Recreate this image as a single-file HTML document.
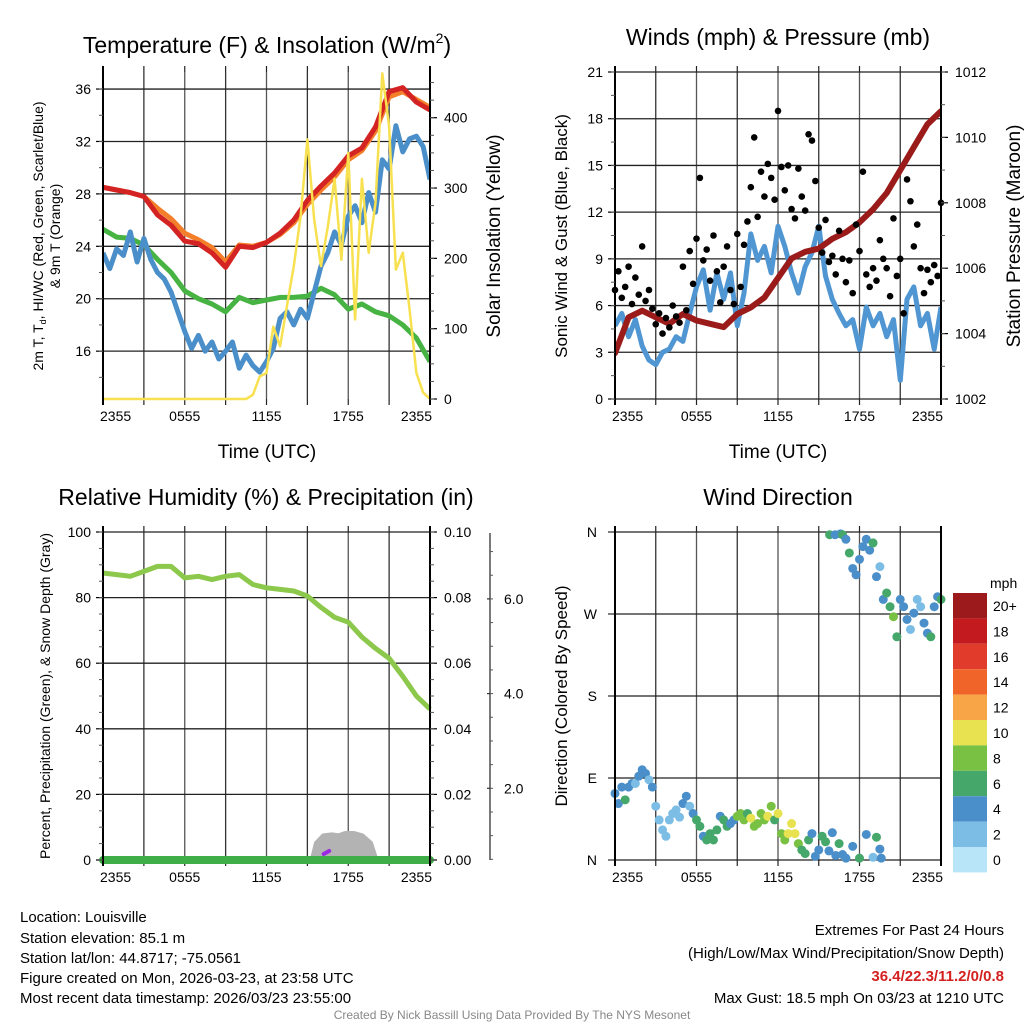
<!DOCTYPE html>
<html><head><meta charset="utf-8"><style>
html,body{margin:0;padding:0;background:#fff;}
svg{display:block;font-family:"Liberation Sans",Arial,sans-serif;}
</style></head><body>
<svg id="svg" xmlns="http://www.w3.org/2000/svg" width="1024" height="1024" viewBox="0 0 1024 1024">
<rect width="1024" height="1024" fill="#fff"/>
<g id="txt" fill="#000">
<text x="267" y="53" font-size="23" text-anchor="middle">Temperature (F) &amp; Insolation (W/m<tspan font-size="14" dy="-10">2</tspan><tspan dy="10">)</tspan></text>
<text x="778" y="45" font-size="23" text-anchor="middle">Winds (mph) &amp; Pressure (mb)</text>
<text x="266" y="505" font-size="23" text-anchor="middle">Relative Humidity (%) &amp; Precipitation (in)</text>
<text x="778" y="505" font-size="23" text-anchor="middle">Wind Direction</text>
<text x="267" y="458" font-size="19" text-anchor="middle">Time (UTC)</text>
<text x="778" y="458" font-size="19" text-anchor="middle">Time (UTC)</text>
<text transform="translate(43,236) rotate(-90)" font-size="14" text-anchor="middle">2m T, T<tspan font-size="9" dy="3">d</tspan><tspan dy="-3">, HI/WC (Red, Green, Scarlet/Blue)</tspan></text>
<text transform="translate(60,236) rotate(-90)" font-size="14" text-anchor="middle">&amp; 9m T (Orange)</text>
<text transform="translate(500,236) rotate(-90)" font-size="19" text-anchor="middle">Solar Insolation (Yellow)</text>
<text transform="translate(567,236) rotate(-90)" font-size="17" text-anchor="middle">Sonic Wind &amp; Gust (Blue, Black)</text>
<text transform="translate(1020,236) rotate(-90)" font-size="19" text-anchor="middle">Station Pressure (Maroon)</text>
<text transform="translate(50,696) rotate(-90)" font-size="14" text-anchor="middle">Percent, Precipitation (Green), &amp; Snow Depth (Gray)</text>
<text transform="translate(567,696) rotate(-90)" font-size="17" text-anchor="middle">Direction (Colored By Speed)</text>
<text x="990" y="588" font-size="14" text-anchor="start">mph</text>
<g font-size="15">
<text x="20" y="922">Location: Louisville</text>
<text x="20" y="943">Station elevation: 85.1 m</text>
<text x="20" y="963">Station lat/lon: 44.8717; -75.0561</text>
<text x="20" y="983">Figure created on Mon, 2026-03-23, at 23:58 UTC</text>
<text x="20" y="1003">Most recent data timestamp: 2026/03/23 23:55:00</text>
</g>
<g font-size="15" text-anchor="end">
<text x="1004" y="935">Extremes For Past 24 Hours</text>
<text x="1004" y="958">(High/Low/Max Wind/Precipitation/Snow Depth)</text>
<text x="1004" y="981" fill="#d42020" font-weight="bold">36.4/22.3/11.2/0/0.8</text>
<text x="1004" y="1003">Max Gust: 18.5 mph On 03/23 at 1210 UTC</text>
</g>
<text x="512" y="1019" font-size="12" fill="#888" text-anchor="middle">Created By Nick Bassill Using Data Provided By The NYS Mesonet</text>
</g>
</svg>
<script>
// ---------- data ----------
const timeLabels = ["2355","0555","1155","1755","2355"];
// Panel 1 (hourly, 0..24 h)
const tempRed = [28.5,28.3,28.1,27.8,26.4,25.6,24.4,24.2,23.5,22.4,24.0,23.9,24.3,25.0,26.0,27.5,28.6,29.6,30.9,31.5,33.1,35.8,36.1,35.0,34.4];
const tempOrange = [28.5,28.3,28.1,27.8,26.9,26.1,25.0,24.5,23.9,22.8,24.1,24.0,24.3,24.9,25.8,27.2,28.3,29.3,30.6,31.3,32.8,35.4,35.8,35.2,34.6];
const dewGreen = [25.3,24.7,24.6,24.1,23.0,22.0,20.6,20.0,19.6,19.0,20.1,19.7,19.9,20.1,20.1,20.2,20.8,20.3,19.2,19.6,19.0,18.7,18.0,17.0,15.2];
// half-hourly
const hiwcBlue = [23.5,22.3,23.8,23.3,25.1,22.8,24.6,23.0,22.0,21.5,20.5,19.0,17.5,16.2,17.2,16.0,16.7,15.4,16.0,16.7,14.7,15.7,14.9,14.4,15.2,16.2,18.5,19.0,18.0,19.2,18.5,20.5,22.5,23.5,25.1,24.1,26.3,27.1,25.8,28.1,26.6,30.6,29.9,33.2,31.2,32.2,32.4,31.6,29.1];
const solar = [0,0,0,0,0,0,0,0,0,0,0,0,0,0,0,0,0,0,0,0,0,0,6,32,37,103,75,132,189,260,369,255,189,245,313,198,350,113,313,208,279,463,388,184,208,127,37,9,0];
const tempTicks = [16,20,24,28,32,36];
const solarTicks = [0,100,200,300,400];
// Panel 2
const pressure = [1003.4,1004.5,1004.7,1004.5,1004.3,1004.6,1004.4,1004.3,1004.2,1004.6,1004.8,1005.1,1005.7,1006.3,1006.5,1006.6,1006.9,1007.1,1007.4,1007.8,1008.3,1009.0,1009.7,1010.4,1010.8];
const windBlue = [4.7,5.5,4.0,5.1,3.4,2.5,2.2,3.0,3.2,4.0,3.7,5.5,7.2,8.3,5.7,8.1,6.4,8.1,4.7,6.8,10.6,8.9,9.8,8.1,11.1,9.8,8.1,6.8,8.5,9.4,11.1,7.9,6.4,5.5,4.7,5.1,3.2,5.9,4.7,5.5,4.0,5.1,1.2,6.4,7.2,4.7,5.5,3.2,5.9];
const gusts = [7.0,8.2,6.5,7.2,8.5,6.1,7.8,6.7,9.8,6.3,7.0,5.8,4.8,5.5,4.2,5.2,4.6,6.0,5.3,4.9,8.5,5.7,9.5,7.4,10.3,14.2,8.9,9.6,7.6,10.5,8.2,6.2,8.5,9.8,7.0,6.1,10.6,7.2,9.9,11.4,13.6,16.8,11.7,14.6,13.0,15.1,14.2,12.8,18.5,14.9,13.4,15.0,12.2,11.6,14.8,13.0,12.1,17.0,16.6,14.0,11.0,9.4,11.5,8.8,9.2,8.0,10.8,9.0,7.5,8.9,6.8,11.2,9.5,14.6,8.0,7.2,8.4,7.6,10.2,9.0,8.4,6.6,11.6,7.9,9.0,5.5,14.1,12.7,9.8,11.2,8.4,6.8,8.3,7.5,8.6,7.9,12.6];
const windTicks = [0,3,6,9,12,15,18,21];
const pressTicks = [1002,1004,1006,1008,1010,1012];
// Panel 3
const rh = [87.5,87,86.5,88,89.5,89.5,86,86.5,85.5,86.5,87,84,83,82.5,82,80.5,77,74,72.5,68,64.5,61.5,56,50,46];
const precip = [0,0,0,0,0,0,0,0,0,0,0,0,0,0,0,0,0,0,0,0,0,0,0,0,0];
const snowTimes = [15.4,15.7,16.2,16.8,17.3,17.8,18.4,19.0,19.6,20.0];
const snowDepth = [0,0.35,0.5,0.52,0.5,0.55,0.55,0.5,0.35,0];
const rhTicks = [0,20,40,60,80,100];
const precipTicks = [0,0.02,0.04,0.06,0.08,0.10];
const snowTicks = [2.0,4.0,6.0];
// Panel 4
const dirTimes = [0,0.25,0.5,0.75,1,1.25,1.5,1.75,2,2.25,2.5,2.75,3,3.25,3.5,3.75,4,4.25,4.5,4.75,5,5.25,5.5,5.75,6,6.25,6.5,6.75,7,7.25,7.5,7.75,8,8.25,8.5,8.75,9,9.25,9.5,9.75,10,10.25,10.5,10.75,11,11.25,11.5,11.75,12,12.25,12.5,12.75,13,13.25,13.5,13.75,14,14.25,14.5,14.75,15,15.25,15.5,15.75,16,16.25,16.5,16.75,17,17.5,18,18.5,19,19.25,19.5,19.6,15.8,16.2,16.6,16.75,17,17.25,17.5,17.75,18,18.25,18.5,18.75,19,19.25,19.5,19.75,20,20.25,20.5,20.75,21,21.25,21.5,21.75,22,22.25,22.5,22.75,23,23.25,23.5,23.75,24];
const dirVals = [73,62,80,66,80,84,84,92,99,95,88,80,59,44,33,26,44,51,55,47,62,70,59,51,44,37,26,22,29,22,33,48,44,37,40,44,48,51,44,51,46,37,40,51,44,48,59,44,51,29,22,29,40,29,18,11,7,22,29,4,11,26,20,10,30,5,18,6,2,15,2,28,3,25,12,2,357,357,358,357,352,337,320,313,330,344,352,340,348,311,322,286,293,278,267,245,286,278,264,253,271,286,278,260,249,245,278,289,286];
const dirSpeeds = [4,4,4,6,4,4,3,4,4,4,3,4,2,2,2,3,2,2,3,2,4,4,3,4,6,6,4,6,6,6,6,4,6,6,4,4,8,8,8,6,10,9,8,8,9,10,8,6,10,9,8,10,10,10,8,6,6,6,4,4,4,6,6,4,4,4,6,4,4,4,6,4,3,6,4,4,6,4,4,6,4,6,4,4,5,4,4,4,6,4,2,4,6,6,8,6,4,4,4,3,4,2,2,4,4,6,4,4,6];
const speedLabels = ["20+","18","16","14","12","10","8","6","4","2","0"];
const speedColors = ["#b9e5f9","#7cbde6","#4a8fc9","#45a86a","#79c143","#e8e150","#f8a548","#f06429","#e03b2b","#c21a1f","#9c1a1b"];

// ---------- helpers ----------
const NS="http://www.w3.org/2000/svg";
const svg=document.getElementById('svg');
function mk(tag,attrs,parent){const e=document.createElementNS(NS,tag);for(const k in attrs)e.setAttribute(k,attrs[k]);(parent||svg).appendChild(e);return e;}
function txt(s,x,y,size,anchor,parent){const t=mk('text',{x:x,y:y,'font-size':size,'text-anchor':anchor||'middle'},parent);t.textContent=s;return t;}

const P1={x0:103,x1:430,y0:72,y1:399};
const P2={x0:615,x1:941,y0:72,y1:399};
const P3={x0:103,x1:430,y0:532,y1:860};
const P4={x0:615,x1:941,y0:532,y1:860};
function xs(P){return h=>P.x0+(h/24)*(P.x1-P.x0);}
function ys(P,lo,hi){return v=>P.y1-(v-lo)/(hi-lo)*(P.y1-P.y0);}

function frame(P,name){
  const g=mk('g',{});
  
  
  const x=xs(P);
  for(let i=1;i<8;i++){mk('line',{x1:x(i*3),x2:x(i*3),y1:P.y0-0,y2:P.y1,stroke:(i%2?'#333':'#555'),'stroke-width':1.3},g);
    mk('line',{x1:x(i*3),x2:x(i*3),y1:P.y1,y2:P.y1+6,stroke:'#222','stroke-width':1.2},g);
    mk('line',{x1:x(i*3),x2:x(i*3),y1:P.y0,y2:P.y0-6,stroke:'#222','stroke-width':1.2},g);}
  const xl=mk('g',{});
  
  
  timeLabels.forEach((l,i)=>{
    if(i===0) txt(l,P.x0-3,P.y1+22,14,'start',xl);
    else if(i===timeLabels.length-1) txt(l,P.x1+2,P.y1+22,14,'end',xl);
    else txt(l,x(i*6),P.y1+22,14,'middle',xl);
  });
  return g;
}
function hgrid(P,vals,y,g){vals.forEach(v=>mk('line',{x1:P.x0,x2:P.x1,y1:y(v),y2:y(v),stroke:'#222','stroke-width':1.3},g));}
function border(P,g){mk('line',{x1:P.x0,x2:P.x0,y1:P.y0,y2:P.y1+6,stroke:'#000','stroke-width':2},g);mk('line',{x1:P.x1,x2:P.x1,y1:P.y0,y2:P.y1+6,stroke:'#000','stroke-width':2},g);
  mk('line',{x1:P.x0,x2:P.x0,y1:P.y0,y2:P.y0-6,stroke:'#000','stroke-width':2},g);mk('line',{x1:P.x1,x2:P.x1,y1:P.y0,y2:P.y0-6,stroke:'#000','stroke-width':2},g);}
function leftTicks(P,vals,y,fmt,minorStep,lo,hi,g){
  vals.forEach(v=>{mk('line',{x1:P.x0-7,x2:P.x0,y1:y(v),y2:y(v),stroke:'#000','stroke-width':1.2},g);txt(fmt(v),P.x0-12,y(v)+5,14,'end',g);});
  for(let v=lo;v<=hi+1e-9;v+=minorStep){if(y(v)>=P.y0-1&&y(v)<=P.y1+1)mk('line',{x1:P.x0-4,x2:P.x0,y1:y(v),y2:y(v),stroke:'#555','stroke-width':1},g);}
}
function rightTicks(P,vals,y,fmt,minorStep,lo,hi,g){
  vals.forEach(v=>{mk('line',{x1:P.x1,x2:P.x1+7,y1:y(v),y2:y(v),stroke:'#000','stroke-width':1.2},g);txt(fmt(v),P.x1+14,y(v)+5,14,'start',g);});
  for(let v=lo;v<=hi+1e-9;v+=minorStep){if(y(v)>=P.y0-1&&y(v)<=P.y1+1)mk('line',{x1:P.x1,x2:P.x1+4,y1:y(v),y2:y(v),stroke:'#555','stroke-width':1},g);}
}
function pathFrom(times,vals,x,y){return vals.map((v,i)=>(i?'L':'M')+x(times[i]).toFixed(1)+','+y(v).toFixed(1)).join(' ');}
const hourly=Array.from({length:25},(_,i)=>i);
const half=Array.from({length:49},(_,i)=>i/2);
const quarter=Array.from({length:97},(_,i)=>i/4);

// ---------- Panel 1 ----------
{
 const P=P1,x=xs(P),y=ys(P,12.35,37.3),ys2=ys(P,0,465);
 const g=frame(P,'temp-chart');
 hgrid(P,tempTicks,y,g);
 const clip=mk('clipPath',{id:'c1'});mk('rect',{x:P.x0,y:P.y0,width:P.x1-P.x0,height:P.y1-P.y0+3},clip);
 const s=mk('g',{'clip-path':'url(#c1)'});
 let e;
 e=mk('path',{d:pathFrom(hourly,dewGreen,x,y),fill:'none',stroke:'#46b343','stroke-width':5,'stroke-linejoin':'round'},s);
 
 e=mk('path',{d:pathFrom(half,hiwcBlue,x,y),fill:'none',stroke:'#4a8fc9','stroke-width':5,'stroke-linejoin':'round'},s);
 
 e=mk('path',{d:pathFrom(hourly,tempOrange,x,y),fill:'none',stroke:'#f47f2a','stroke-width':5,'stroke-linejoin':'round'},s);
 
 e=mk('path',{d:pathFrom(hourly,tempRed,x,y),fill:'none',stroke:'#d42323','stroke-width':5,'stroke-linejoin':'round'},s);
 
 e=mk('path',{d:pathFrom(half,solar,x,ys2),fill:'none',stroke:'#f8e150','stroke-width':2.5,'stroke-linejoin':'round'},s);
 
 const a=mk('g',{});
 border(P,a);
 leftTicks(P,tempTicks,y,v=>String(v),2,12,38,a);
 rightTicks(P,solarTicks,ys2,v=>String(v),25,0,465,a);
}
// ---------- Panel 2 ----------
{
 const P=P2,x=xs(P),y=ys(P,0,21),yp=ys(P,1002,1012);
 const g=frame(P,'wind-chart');
 hgrid(P,windTicks,y,g);
 const clip=mk('clipPath',{id:'c2'});mk('rect',{x:P.x0,y:P.y0,width:P.x1-P.x0,height:P.y1-P.y0},clip);
 const s=mk('g',{'clip-path':'url(#c2)'});
 let e=mk('path',{d:pathFrom(half,windBlue,x,y),fill:'none',stroke:'#4f96d2','stroke-width':5,'stroke-linejoin':'round'},s);
 
 gusts.forEach((v,i)=>{const c=mk('circle',{cx:x(quarter[i]),cy:y(v),r:3.3,fill:'#000'});
   
   });
 e=mk('path',{d:pathFrom(hourly,pressure,x,yp),fill:'none',stroke:'#9b1b1b','stroke-width':6,'stroke-linejoin':'round','stroke-linecap':'round'},s);
 
 const a=mk('g',{});
 border(P,a);
 leftTicks(P,windTicks,y,v=>String(v),1.5,0,21,a);
 rightTicks(P,pressTicks,yp,v=>String(v),1,1002,1012,a);
}
// ---------- Panel 3 ----------
{
 const P=P3,x=xs(P),y=ys(P,0,100),yr=ys(P,0,0.10);
 const ysn=v=>P.y1-v*47.35;
 const g=frame(P,'rh-chart');
 hgrid(P,rhTicks,y,g);
 let e=mk('path',{d:pathFrom(snowTimes,snowDepth,x,ysn)+' Z',fill:'#b3b3b3',stroke:'#b3b3b3','stroke-width':6,'stroke-linejoin':'round'});
 
 e=mk('path',{d:'M'+x(16.2)+','+(P.y1-6)+' L'+x(16.6)+','+(P.y1-9),stroke:'#9b2be0','stroke-width':4,'stroke-linecap':'round',fill:'none'});
 
 e=mk('path',{d:pathFrom(hourly,rh,x,y),fill:'none',stroke:'#8cc84b','stroke-width':5,'stroke-linejoin':'round'});
 
 e=mk('path',{d:pathFrom(hourly,precip,x,yr),fill:'none',stroke:'#3fae49','stroke-width':8,'stroke-linecap':'round'});
 
 const a=mk('g',{});
 border(P,a);
 leftTicks(P,rhTicks,y,v=>String(v),5,0,100,a);
 rightTicks(P,precipTicks,yr,v=>v.toFixed(2),0.005,0,0.1,a);
 const sa=mk('g',{});
 const ys3=v=>883-v*47.35;
 mk('line',{x1:490,x2:490,y1:533,y2:860,stroke:'#333','stroke-width':1.3},sa);
 for(let v=0.5;v<=7.25;v+=0.5){const yy=ys3(v);if(yy>=533&&yy<=860)mk('line',{x1:490,x2:493,y1:yy,y2:yy,stroke:'#555','stroke-width':1},sa);}
 snowTicks.forEach(v=>{mk('line',{x1:487,x2:490,y1:ys3(v),y2:ys3(v),stroke:'#333','stroke-width':1.2},sa);txt(v.toFixed(1),504,ys3(v)+5,14,'start',sa);});
}
// ---------- Panel 4 ----------
{
 const P=P4,x=xs(P),y=ys(P,0,360);
 const g=frame(P,'direction-chart');
 hgrid(P,[0,90,180,270,360],y,g);
 dirVals.forEach((v,i)=>{const ci=Math.min(10,Math.floor(dirSpeeds[i]/2));
   const c=mk('circle',{cx:x(dirTimes[i]),cy:y(v),r:4.5,fill:speedColors[ci]});
   
   });
 const a=mk('g',{});
 border(P,a);
 ["N","E","S","W","N"].forEach((l,i)=>{mk('line',{x1:P.x0-7,x2:P.x0,y1:y(i*90),y2:y(i*90),stroke:'#000'},a);txt(l,P.x0-18,y(i*90)+5,14,'end',a);});
 const cb=mk('g',{});
 speedLabels.forEach((l,i)=>{const col=speedColors[10-i];
   const r=mk('rect',{x:953,y:593+i*25.4,width:34,height:25.4,fill:col},cb);
   
   
   txt(l,993,593+i*25.4+18,14,'start',cb);});
}
</script>
</body></html>
